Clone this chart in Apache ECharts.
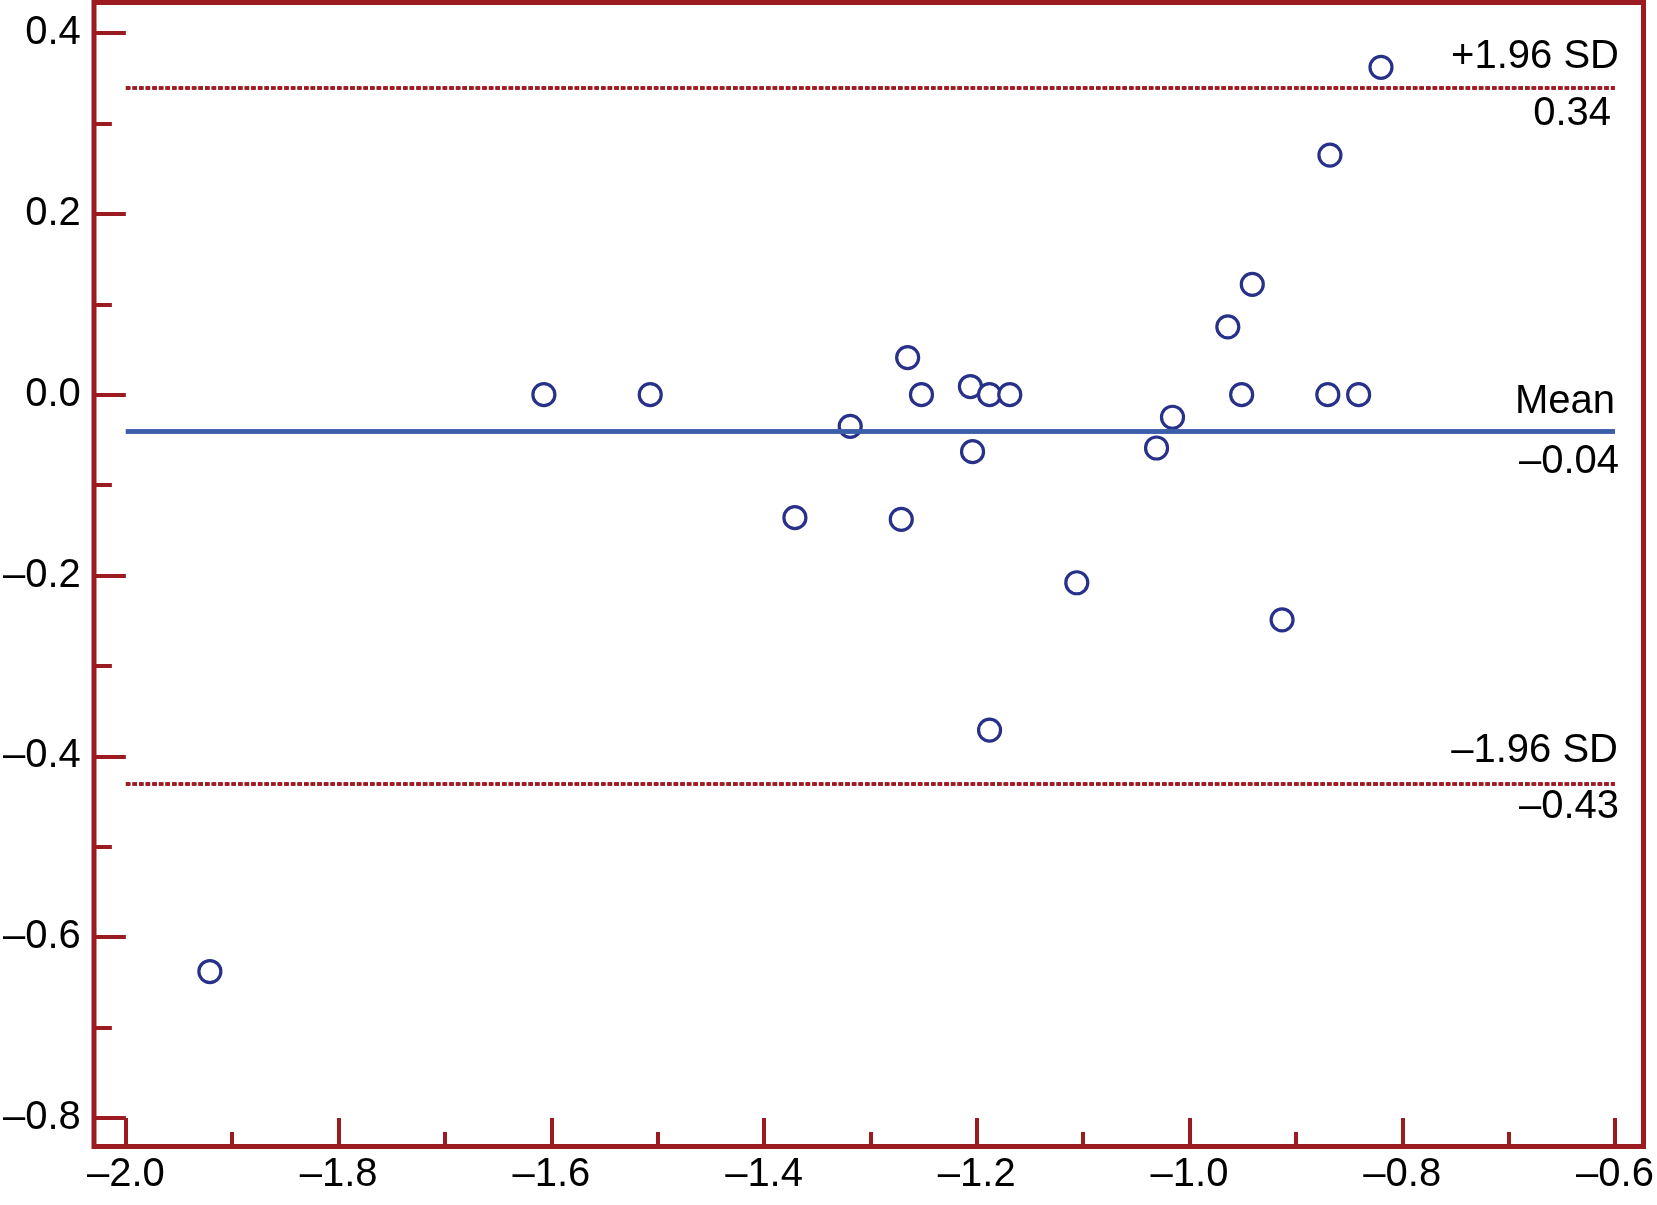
<!DOCTYPE html>
<html>
<head>
<meta charset="utf-8">
<script src="https://cdn.jsdelivr.net/npm/echarts@6/dist/echarts.min.js"></script>
<style>
html,body{margin:0;padding:0;background:#fff;}
#chart{width:1657px;height:1205px;}
</style>
</head>
<body>
<div id="chart"></div>
<script>
// Data (Bland-Altman style)
const xs = [-1.921, -1.607, -1.507, -1.371, -1.319, -1.271, -1.265, -1.252, -1.206, -1.204, -1.188, -1.188,
            -1.169, -1.106, -1.031, -1.016, -0.964, -0.951, -0.941, -0.913, -0.870, -0.868, -0.841, -0.820];
const ys = [-0.638, 0.000, 0.000, -0.136, -0.035, -0.138, 0.041, 0.000, 0.009, -0.063, 0.000, -0.371,
            0.000, -0.208, -0.059, -0.025, 0.075, 0.000, 0.122, -0.249, 0.000, 0.265, 0.000, 0.362];
const limitNames = ['+1.96 SD', 'Mean', '\u20131.96 SD'];
const limitValues = [0.338, -0.044, -0.428];
const xTicks = [-2.0, -1.8, -1.6, -1.4, -1.2, -1.0, -0.8, -0.6];
const yTicks = [-0.8, -0.6, -0.4, -0.2, 0.0, 0.2, 0.4];

const RED = '#9c1b21';
const NAVY = '#27318a';
const BLUE = '#3b5ea8';
const FONT = 'Liberation Sans, Arial, sans-serif';

function fmt(v, d) {
  const s = Math.abs(v).toFixed(d);
  return (v < 0 && parseFloat(s) !== 0 ? '\u2013' : '') + s;
}

const points = xs.map((x, i) => [x, ys[i]]);

const lineStyles = [
  {color: RED, width: 3.5, type: [4.5, 2.1]},
  {color: BLUE, width: 4.5, type: 'solid'},
  {color: RED, width: 3.5, type: [4.5, 2.1]}
];
// per-label fine placement [dx, dy] for name (above) and value (below)
const nameDist = [[-4, 10], [0, 9], [-3, 12]];
const valDist = [[4, 7], [-4, 11], [-4, 4]];

const markData = [];
limitValues.forEach((v, i) => {
  markData.push({
    yAxis: v, name: limitNames[i], lineStyle: lineStyles[i],
    label: {show: true, position: 'insideEndTop', formatter: limitNames[i], distance: nameDist[i],
            color: '#000', fontSize: 40, fontFamily: FONT}
  });
  markData.push({
    yAxis: v, name: limitNames[i], lineStyle: lineStyles[i],
    label: {show: true, position: 'insideEndBottom', formatter: fmt(v, 2), distance: valDist[i],
            color: '#000', fontSize: 40, fontFamily: FONT}
  });
});

const chart = echarts.init(document.getElementById('chart'), null, {renderer: 'canvas'});
chart.setOption({
  animation: false,
  backgroundColor: '#fff',
  grid: [
    {left: 124, right: 42, top: 33, bottom: 87, show: false, containLabel: false},
    {left: 94, right: 13.5, top: 2.5, bottom: 58.5, show: true, borderColor: RED, borderWidth: 5,
     backgroundColor: 'transparent', containLabel: false, z: 5}
  ],
  xAxis: [
    {
      type: 'value', gridIndex: 0, min: xTicks[0], max: xTicks[xTicks.length - 1], interval: 0.2,
      position: 'bottom', offset: 29,
      axisLine: {show: false, onZero: false},
      axisTick: {show: true, inside: true, length: 29, lineStyle: {color: RED, width: 4}},
      minorTick: {show: true, splitNumber: 2, length: 15, lineStyle: {color: RED, width: 4}},
      splitLine: {show: false},
      axisLabel: {show: true, margin: 8, color: '#000', fontSize: 40, fontFamily: FONT,
                  showMinLabel: true, showMaxLabel: true, formatter: v => fmt(v, 1)}
    },
    {type: 'value', gridIndex: 1, show: false, min: 0, max: 1}
  ],
  yAxis: [
    {
      type: 'value', gridIndex: 0, min: yTicks[0], max: yTicks[yTicks.length - 1], interval: 0.2,
      position: 'left', offset: 30,
      axisLine: {show: false, onZero: false},
      axisTick: {show: true, inside: true, length: 30, lineStyle: {color: RED, width: 4}},
      minorTick: {show: true, splitNumber: 2, length: 16, lineStyle: {color: RED, width: 4}},
      splitLine: {show: false},
      axisLabel: {show: true, margin: 15, color: '#000', fontSize: 40, fontFamily: FONT,
                  showMinLabel: true, showMaxLabel: true, formatter: v => fmt(v, 1)}
    },
    {type: 'value', gridIndex: 1, show: false, min: 0, max: 1}
  ],
  series: [
    {
      type: 'scatter', xAxisIndex: 0, yAxisIndex: 0,
      data: points,
      symbol: 'circle', symbolSize: 22,
      itemStyle: {color: '#fff', borderColor: NAVY, borderWidth: 3.2, opacity: 1},
      z: 3,
      markLine: {
        silent: true, symbol: ['none', 'none'], animation: false,
        data: markData
      }
    }
  ]
});
</script>
</body>
</html>
